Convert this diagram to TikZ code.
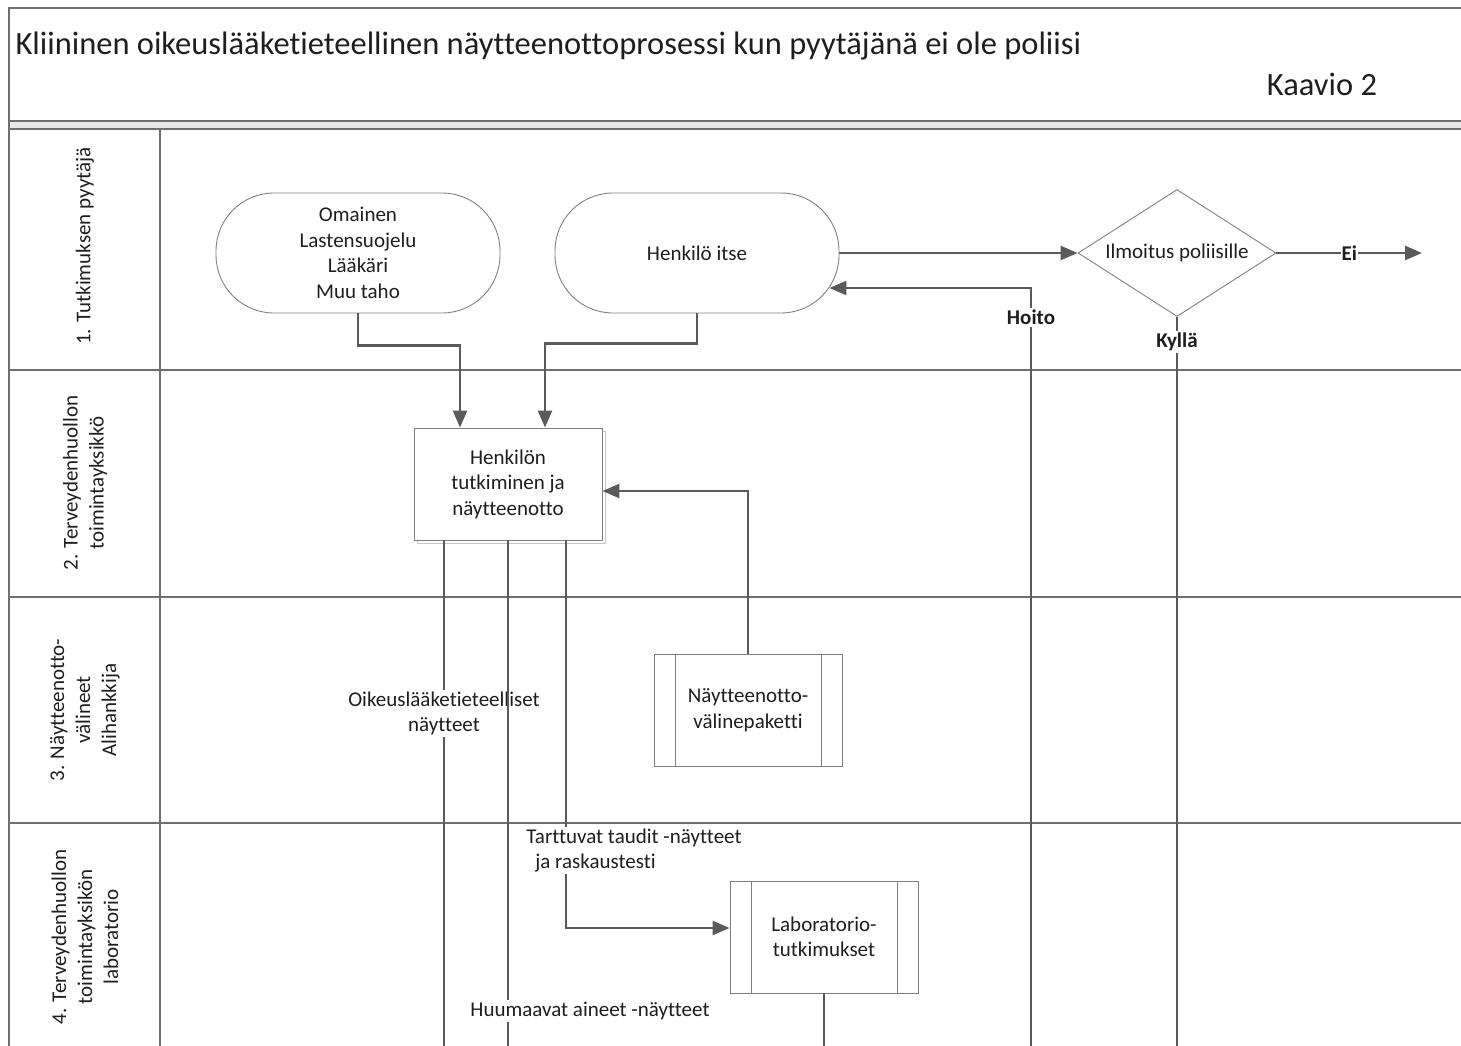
\documentclass[tikz,border=0pt]{standalone}
\usepackage{fontspec}
\setmainfont{Carlito}[Ligatures=NoCommon]
\usetikzlibrary{arrows.meta,shapes.geometric,calc}

\definecolor{lanegray}{HTML}{6E6E6E}
\definecolor{flowgray}{HTML}{5A5A5A}
\definecolor{boxgray}{HTML}{7F7F7F}
\definecolor{txtgray}{HTML}{1E1E1E}

\tikzset{
  lane/.style={line width=2pt, color=lanegray},
  term/.style={draw=boxgray, line width=0.9pt, rounded corners=58pt, minimum width=284pt, minimum height=120pt, align=center, text=txtgray, font=\fontsize{21pt}{25.5pt}\selectfont},
  task/.style={draw=boxgray, line width=0.9pt, minimum width=188pt, minimum height=112pt, align=center, text=txtgray, font=\fontsize{21pt}{25.5pt}\selectfont},
  predef/.style={task, path picture={
      \draw[boxgray, line width=0.8pt] ([xshift=21pt]path picture bounding box.north west) -- ([xshift=21pt]path picture bounding box.south west);
      \draw[boxgray, line width=0.8pt] ([xshift=-21pt]path picture bounding box.north east) -- ([xshift=-21pt]path picture bounding box.south east);}},
  decision/.style={draw=boxgray, line width=0.9pt, diamond, aspect=1.56, inner sep=0pt, minimum width=198pt, minimum height=127pt, text=txtgray, font=\fontsize{21pt}{25pt}\selectfont},
  flow/.style={line width=2.6pt, color=flowgray, -{Triangle[length=17pt,width=14pt]}},
  wire/.style={line width=2.6pt, color=flowgray},
  lbl/.style={fill=white, inner sep=2pt, text=txtgray, font=\fontsize{21pt}{25.5pt}\selectfont},
  boldlbl/.style={lbl, font=\fontsize{21pt}{25pt}\selectfont\bfseries},
  lanetitle/.style={rotate=90, align=center, text=txtgray, font=\fontsize{21pt}{26pt}\selectfont},
}

\begin{document}
\begin{tikzpicture}[x=1pt, y=-1pt]
  \useasboundingbox (0,0) rectangle (1461,1046);

  %%%%% FRAME %%%%%
  \fill[black!9] (9,121) rectangle (1461,129);
  \draw[lane] (1461,8) -- (9,8) -- (9,1060);
  \draw[lane] (9,121) -- (1461,121);
  \draw[lane] (9,129) -- (1461,129);
  \draw[lane] (160,129) -- (160,1060);
  \foreach \y in {370,597,823}
    \draw[lane] (9,\y) -- (1461,\y);

  \node[anchor=west, text=txtgray, font=\fontsize{32.5pt}{36pt}\selectfont] (title) at (12,46) {Kliininen oikeuslääketieteellinen näytteenottoprosessi kun pyytäjänä ei ole poliisi};
  \node[text=txtgray, font=\fontsize{32.5pt}{36pt}\selectfont] (chart) at (1322,84) {Kaavio 2};

  %%%%% LANES %%%%%
  \node[lanetitle] (lane1) at (85,246) {1. Tutkimuksen pyytäjä};
  \node[lanetitle] (lane2) at (85,483) {2. Terveydenhuollon\\toimintayksikkö};
  \node[lanetitle] (lane3) at (85,710) {3. Näytteenotto-\\välineet\\Alihankkija};
  \node[lanetitle] (lane4) at (85,937) {4. Terveydenhuollon\\toimintayksikön\\laboratorio};

  %%%%% SHAPES %%%%%
  \node[term] (req) at (358,253) {Omainen\\Lastensuojelu\\Lääkäri\\Muu taho};
  \node[term] (self) at (697,253) {Henkilö itse};
  \node[decision] (dec) at (1177,253) {Ilmoitus poliisille};

  \draw[black!22, line width=0.9pt] (417,431) rectangle (605,543);
  \node[task, fill=white] (exam) at (508,484) {Henkilön\\tutkiminen ja\\näytteenotto};
  \node[predef] (kit) at (748,710) {Näytteenotto-\\välinepaketti};
  \node[predef] (lab) at (824,937) {Laboratorio-\\tutkimukset};

  \coordinate (eiend) at (1422,253);
  \coordinate (kylend) at (1177,1060);
  \coordinate (hoitoend) at (1031,1060);
  \coordinate (oikend) at (444,1060);
  \coordinate (huuend) at (508,1060);
  \coordinate (labend) at (824,1060);

  %%%%% CONNECTORS %%%%%
  \draw[flow] (req.south) -- ++(0,32) -| ([xshift=-48pt]exam.north);
  \draw[flow] (self.south) -- ++(0,30) -| ([xshift=37pt]exam.north);
  \draw[flow] (self.east) -- (dec.west);
  \draw[flow] (dec.east) -- node[boldlbl, inner sep=1pt] (ei) {Ei} (eiend);
  \draw[wire] (dec.south) -- node[boldlbl, pos=0.034] (kylla) {Kyllä} (kylend);
  \draw[flow] (hoitoend) -- node[boldlbl, pos=0.962] (hoito) {Hoito} (1031,288) -- ([shift={(-10pt,-35pt)}]self.east);
  \draw[flow] (kit.north) |- ([yshift=-7pt]exam.east);

  \draw[wire] ([xshift=-64pt]exam.south) -- node[lbl, pos=0.333, align=center] (oik) {Oikeuslääketieteelliset\\näytteet} (oikend);
  \draw[wire] (exam.south) -- node[lbl, pos=0.905, xshift=82pt] (huu) {Huumaavat aineet -näytteet} (huuend);
  \draw[flow] ([xshift=58pt]exam.south) |- node[lbl, pos=0.4, align=left, xshift=68pt] (tart) {Tarttuvat taudit -näytteet\\\hspace{9pt}ja raskaustesti} ([yshift=9pt]lab.west);
  \draw[wire] (lab.south) -- (labend);
\end{tikzpicture}
\end{document}
